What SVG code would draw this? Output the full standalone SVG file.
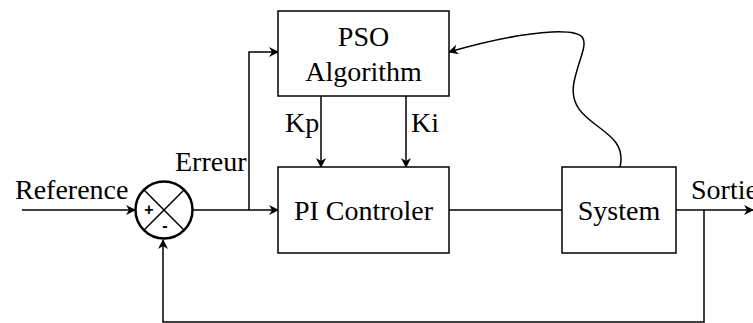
<svg xmlns="http://www.w3.org/2000/svg" width="753" height="323" viewBox="0 0 753 323">
<style>
.box{fill:#fff;stroke:#000;stroke-width:1.5}
.ln{fill:none;stroke:#000;stroke-width:1.5}
.t{font-size:28px;fill:#000}
.s{font-size:16px;font-weight:bold;fill:#000}
</style>
<defs>
<marker id="arr" viewBox="0 0 10 10" refX="9" refY="5" markerWidth="10" markerHeight="10" markerUnits="userSpaceOnUse" orient="auto">
<path d="M0,0 L10,5 L0,10 L3,5 Z" fill="#000"/>
</marker>
</defs>
<rect width="753" height="323" fill="#fff"/>
<g id="connectors">
<path class="ln" d="M22,210 H135" marker-end="url(#arr)"/>
<path class="ln" d="M193,210 H278" marker-end="url(#arr)"/>
<path class="ln" d="M249,210 V52 H278" marker-end="url(#arr)"/>
<path class="ln" d="M321,96 V167" marker-end="url(#arr)"/>
<path class="ln" d="M406,96 V167" marker-end="url(#arr)"/>
<path class="ln" d="M449,210 H562"/>
<path class="ln" d="M676,210 H753" marker-end="url(#arr)"/>
<path class="ln" d="M704,210 V322 H163 V240" marker-end="url(#arr)"/>
<path class="ln" d="M620,167 C630,125 565,128 574,82 C582,45 600,30 552,32 C515,34 480,43 449,52" marker-end="url(#arr)"/>
</g>
<g id="sum">
<circle cx="164" cy="210" r="28.5" fill="#fff" stroke="#000" stroke-width="2.5"/>
<path d="M143.8,189.8 L184.2,230.2 M184.2,189.8 L143.8,230.2" stroke="#000" stroke-width="1.5"/>
<text class="s" font-family="Liberation Sans, Arial, sans-serif" x="149" y="215" text-anchor="middle">+</text>
<text class="s" font-family="Liberation Sans, Arial, sans-serif" x="165" y="231" text-anchor="middle">-</text>
</g>
<g id="pso" font-family="Liberation Serif, Times New Roman, serif">
<rect class="box" x="278" y="11" width="171" height="85"/>
<text class="t" x="363.5" y="46" text-anchor="middle">PSO</text>
<text class="t" x="363.5" y="81" text-anchor="middle">Algorithm</text>
</g>
<g id="pi" font-family="Liberation Serif, Times New Roman, serif">
<rect class="box" x="278" y="167" width="171" height="86"/>
<text class="t" x="363.5" y="220" text-anchor="middle">PI Controler</text>
</g>
<g id="system" font-family="Liberation Serif, Times New Roman, serif">
<rect class="box" x="562" y="167" width="114" height="86"/>
<text class="t" x="619" y="220" text-anchor="middle">System</text>
</g>
<g id="labels" font-family="Liberation Serif, Times New Roman, serif">
<text class="t" x="15" y="199">Reference</text>
<text class="t" x="175" y="171">Erreur</text>
<text class="t" x="285" y="132">Kp</text>
<text class="t" x="411" y="132">Ki</text>
<text class="t" x="691" y="199">Sortie</text>
</g>
</svg>
